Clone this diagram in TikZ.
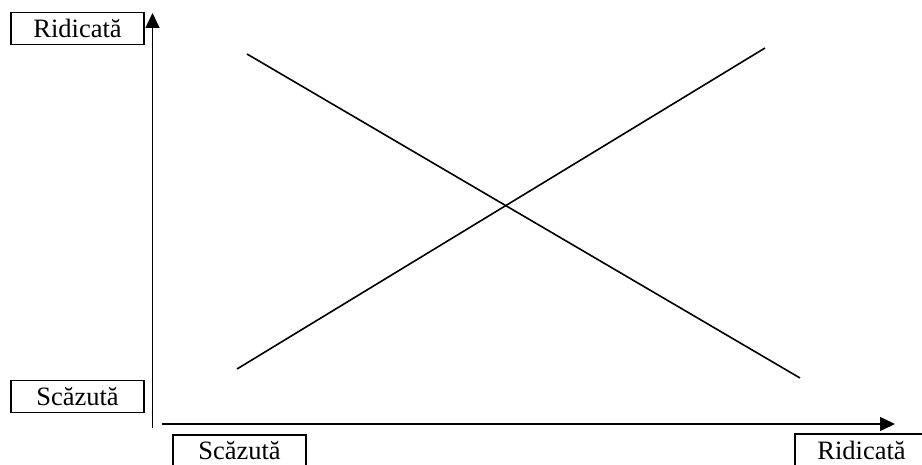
\documentclass[tikz,border=0pt]{standalone}
\usepackage{fontspec}
\setmainfont{Liberation Serif}
\usetikzlibrary{arrows.meta,positioning}
\begin{document}
\begin{tikzpicture}[x=1pt,y=-1pt,
every node/.style={font=\fontsize{26.5}{29}\selectfont},
lbl/.style={draw=black,line width=1.5pt,minimum width=133pt,minimum height=32pt,inner sep=0pt},
axis/.style={-{Triangle[width=14pt,length=15pt]},line width=1.5pt},
trend/.style={line width=1.6pt}
]
\useasboundingbox (0,0) rectangle (922,465);
\clip (0,0) rectangle (922,465);
% axis labels
\node[lbl] (yhigh) at (77.5,28.5)  {Ridicată};
\node[lbl] (ylow)  at (77.5,396.5) {Scăzută};
\node[lbl] (xlow)  at (239.5,451)  {Scăzută};
\node[lbl] (xhigh) at (861.5,450)  {Ridicată};

% axes
\coordinate (yorig) at (152.5,428);
\coordinate (ytop)  at (152.5,13);
\coordinate (xorig) at (162,424);
\coordinate (xend)  at (895,424);
\draw[axis] (yorig) -- (ytop);
\draw[axis] (xorig) -- (xend);

% crossing lines
\coordinate (fall0) at (247,54);
\coordinate (fall1) at (800,378);
\coordinate (rise0) at (237,369);
\coordinate (rise1) at (765,48);
\draw[trend] (fall0) -- (fall1);
\draw[trend] (rise0) -- (rise1);
\end{tikzpicture}
\end{document}
